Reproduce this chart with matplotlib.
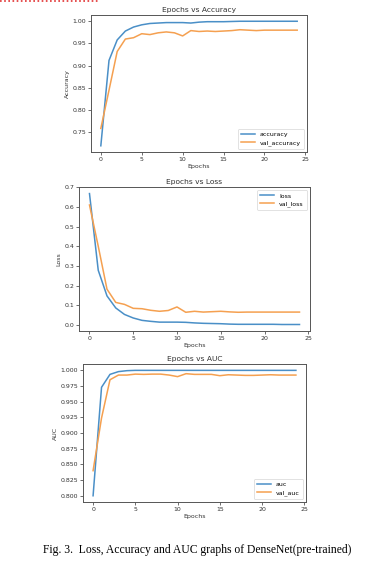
import matplotlib
matplotlib.use('Agg')
from matplotlib import pyplot as plt
from matplotlib.lines import Line2D

epochs = list(range(25))

accuracy = [0.720, 0.912, 0.958, 0.978, 0.987, 0.992, 0.995, 0.996, 0.997, 0.997,
            0.997, 0.996, 0.998, 0.999, 0.999, 0.999, 0.9995, 1.0, 1.0, 1.0,
            1.0, 1.0, 1.0, 1.0, 1.0]
val_accuracy = [0.759, 0.845, 0.932, 0.960, 0.963, 0.972, 0.970, 0.974, 0.976, 0.974,
                0.967, 0.979, 0.977, 0.978, 0.977, 0.978, 0.979, 0.981, 0.980, 0.979,
                0.980, 0.980, 0.980, 0.980, 0.980]

loss = [0.667, 0.278, 0.148, 0.087, 0.054, 0.036, 0.024, 0.019, 0.015, 0.015,
        0.015, 0.014, 0.011, 0.009, 0.008, 0.007, 0.005, 0.004, 0.004, 0.004,
        0.004, 0.004, 0.003, 0.003, 0.003]
val_loss = [0.609, 0.400, 0.182, 0.115, 0.105, 0.085, 0.083, 0.075, 0.070, 0.074,
            0.092, 0.065, 0.070, 0.066, 0.068, 0.070, 0.067, 0.065, 0.066, 0.066,
            0.066, 0.066, 0.066, 0.066, 0.066]

auc = [0.800, 0.973, 0.9936, 0.998, 0.9995, 1.0, 1.0, 1.0, 1.0, 1.0,
       1.0, 1.0, 1.0, 1.0, 1.0, 1.0, 1.0, 1.0, 1.0, 1.0,
       1.0, 1.0, 1.0, 1.0, 1.0]
val_auc = [0.840, 0.924, 0.985, 0.9925, 0.9925, 0.994, 0.9936, 0.994, 0.994, 0.9925,
           0.990, 0.9947, 0.9936, 0.9936, 0.9936, 0.9915, 0.993, 0.9925, 0.992, 0.992,
           0.9925, 0.993, 0.9925, 0.9925, 0.9925]

blue = '#4a8fc7'
orange = '#f5a050'

fig = plt.figure(figsize=(3.84, 5.63), dpi=100)

panels = [
    # rect, title, ylabel, series, legend loc
    ([0.237, 0.730, 0.5625, 0.2433], 'Epochs vs Accuracy', 'Accuracy',
     (accuracy, val_accuracy), ('accuracy', 'val_accuracy'), 'lower right'),
    ([0.2057, 0.412, 0.6016, 0.2558], 'Epochs vs Loss', 'Loss',
     (loss, val_loss), ('loss', 'val_loss'), 'upper right'),
    ([0.216, 0.1083, 0.581, 0.245], 'Epochs vs AUC', 'AUC',
     (auc, val_auc), ('auc', 'val_auc'), 'lower right'),
]

for rect, title, ylab, (a, b), names, loc in panels:
    ax = fig.add_axes(rect)
    ax.plot(epochs, a, color=blue, lw=1.1, label=names[0])
    ax.plot(epochs, b, color=orange, lw=1.1, label=names[1])
    ax.set_title(title, fontsize=5.4, pad=2, color='#333333')
    ax.set_ylabel(ylab, fontsize=4.5, labelpad=2, color='#333333')
    ax.set_xlabel('Epochs', fontsize=4.5, labelpad=1.5, color='#333333')
    ax.tick_params(labelsize=4.5, length=2, width=0.5, pad=1.5, colors='#333333')
    for s in ax.spines.values():
        s.set_linewidth(0.7)
        s.set_color('#555555')
    leg = ax.legend(loc=loc, fontsize=4.5, frameon=True, handlelength=2.2,
                    borderpad=0.5, labelspacing=0.4)
    leg.get_frame().set_linewidth(0.5)

fig.text(0.513, 0.023, 'Fig. 3.  Loss, Accuracy and AUC graphs of DenseNet(pre-trained)',
         ha='center', va='center', fontsize=8.4, family='Liberation Serif')

# red dotted rule at top edge of the scanned page
fig.add_artist(Line2D([0.0, 0.26], [0.998, 0.998], transform=fig.transFigure,
                      color='#e03030', lw=1.2, ls=(0, (1, 1.5))))

plt.savefig('out.png', dpi=100)
